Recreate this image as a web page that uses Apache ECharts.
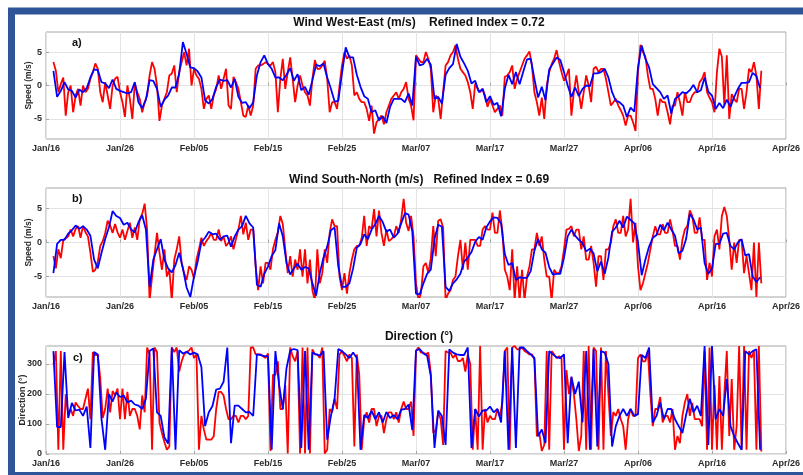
<!DOCTYPE html>
<html>
<head>
<meta charset="utf-8">
<script src="https://cdn.jsdelivr.net/npm/echarts@6/dist/echarts.min.js"></script>
<style>
  html, body { margin: 0; padding: 0; background: #ffffff; }
  #chart { width: 803px; height: 475px; }
</style>
</head>
<body>
<div id="chart"></div>
<script>
// Tick labels for the shared time axis (days counted from Jan/16)
const dateTicks = ['Jan/16', 'Jan/26', 'Feb/05', 'Feb/15', 'Feb/25', 'Mar/07', 'Mar/17', 'Mar/27', 'Apr/06', 'Apr/16', 'Apr/26'];

// Observations (red) every 8 hours, model (blue) every 12 hours, both starting on day 1
const startDay = 1;
const obsStep = 1 / 3;
const modelStep = 0.5;

// Wind West-East component (m/s)
const westEastObs = [
  3.5, 2.2, -1.0,  0.2, 1.2, -4.5,  -1.0, 0.0, -4.0,  -1.5, -0.5, -3.0,  0.0, -1.0, -0.5,
  1.0, 2.0, 3.3,  2.5, -1.0, -2.5,  0.5, -1.5, -3.5,  0.0, 1.0, 1.3,  -1.0, -2.5, -4.7,
  0.0, -2.0, -5.0,  0.3, -1.0, -2.0,  -4.0, -2.5, -1.5,  1.5, 3.5, 2.5,  0.0, -5.3, -3.0,
  -2.0, -1.0, 1.5,  1.8, 3.0, -1.0,  2.0, 3.5, 5.0,  3.0, 5.5, 0.0,  2.5, 1.5, 1.0,
  -0.5, -3.5, -2.0,  -1.5, -3.5, -1.5,  -0.5, 1.5, -0.5,  1.0, 2.5, -3.0,  -3.5, 1.3, 0.5,
  -0.5, -2.5, -4.5,  -4.7, -3.0, -4.5,  -3.0, 2.5, 3.0,  3.0, 3.2, 3.5,  3.2, 3.0, 3.5,
  2.0, -4.0, 1.0,  4.0, -0.5, 2.0,  4.2, 1.0, -2.5,  0.0, 1.5, 0.0,  -1.0, -1.5, -3.0,
  1.0, 3.8, 2.5,  2.5, 3.0, 3.7,  1.0, -4.0, -2.5,  -2.5, -3.5, 0.0,  3.0, 5.0, 4.0,
  4.5, 3.0, -1.5,  -1.0, -2.0, -2.5,  -2.5, -3.5, -5.3,  -3.0, -7.2, -5.5,  -5.0, -4.5, -5.8,
  -4.0, -3.0, -2.0,  -1.5, -1.0, -2.0,  -1.0, -0.5, 0.5,  -2.0, -3.0, -5.2,  4.5, 4.0, 3.5,
  3.5, 5.0, 4.0,  2.5, -4.0, -1.5,  -2.0, -5.0, -1.0,  3.0, 3.5, 4.5,  5.0, 6.0, 4.0,
  2.5, 2.0, 1.5,  0.5, -1.0, -3.5,  0.3, -0.5, -1.0,  -0.5, -1.5, -3.2,  -2.0, -3.0, -4.0,
  -3.5, -3.0, -4.5,  1.3, 1.5, 2.0,  3.0, -0.5, 1.0,  2.0, 3.0, 4.0,  4.5, 5.1, 3.0,
  -1.0, -2.5, -4.5,  -1.8, -5.0, 0.0,  2.0, 3.2, 4.0,  5.3, 3.5, 2.0,  0.7, 1.5, 2.5,
  -4.5, -1.0, 1.5,  -1.0, -3.5, -1.0,  1.5, 0.0, -2.5,  2.5, 2.8, 2.0,  2.5, 2.5, 1.0,
  -1.0, -3.0, -2.5,  -2.0, -3.0, -3.7,  -4.5, -6.0, -4.5,  -4.5, -5.5, -6.8,  2.0, 6.1, 5.0,
  4.3, 1.5, -0.5,  -0.5, -2.0, -4.5,  -2.0, -2.5, -2.5,  -4.0, -5.8, -3.0,  -3.0, -1.0, -2.5,
  -4.5, -1.0, -2.5,  -2.5, -1.5, -1.0,  -1.0, 0.5, 1.0,  2.0, -1.0, -1.8,  -2.5, -4.0, 2.0,
  5.5, 4.3, -3.0,  4.5, -5.0, -1.3,  -2.0, -2.5, -0.5,  -0.5, -3.5, -1.0,  2.5, 2.0, 3.5,
  1.5, -3.5, 2.2
];
const westEastModel = [
  2.2, -1.7,  -0.8, 0.5,  -0.6, -0.8,  -1.8, -0.6,  -1.0, -0.4,  1.2, 2.4,  2.3, 0.5,  0.3, -0.4,
  0.9, -0.5,  -0.8, -1.0,  -1.2, -1.0,  0.5, -2.5,  -3.4, -2.1,  0.8, 0.7,  -0.5, -3.2,  -2.1, -1.5,
  -0.3, -0.3,  1.8, 6.5,  4.7, 2.7,  2.6, 2.1,  1.2, -2.2,  -2.7, -2.0,  -0.2, 0.9,  0.7, 0.8,
  -0.3, 1.0,  -1.7, -2.6,  -2.5, -3.4,  -2.5, 1.5,  3.5, 4.5,  3.2, 2.5,  1.2, 1.2,  0.8, 1.6,
  2.6, 0.7,  1.7, -0.7,  -0.2, -1.4,  0.8, 3.1,  2.9, 3.3,  1.2, -0.5,  -2.4, -2.3,  1.8, 5.7,
  4.2, 4.2,  1.6, -0.2,  -1.6, -2.0,  -4.0, -3.7,  -5.2, -4.6,  -5.6, -3.2,  -2.0, -2.0,  -2.0, -2.5,
  -1.2, -3.0,  4.3, 3.0,  3.2, 4.0,  3.1, -2.0,  -1.7, -2.7,  1.6, 2.6,  3.2, 6.2,  4.3, 3.3,
  2.2, 0.3,  0.7, -1.0,  -0.5, -2.5,  -1.6, -2.9,  -2.6, -4.6,  -0.5, 1.6,  0.2, 2.0,  0.2, 2.1,
  3.9, 4.0,  1.0, -1.8,  -0.2, -2.2,  2.4, 3.3,  4.2, 3.8,  2.0, 0.0,  -1.7, -0.3,  -1.6, -0.5,
  0.0, -0.1,  1.8, 1.8,  2.0, 2.5,  1.2, -1.0,  -2.3, -2.5,  -3.0, -4.7,  -3.3, -3.9,  2.7, 6.0,
  4.0, 2.7,  0.2, -0.4,  -1.0, -2.0,  -1.5, -4.2,  -2.0, -1.6,  -1.0, -1.2,  -0.7, 0.1,  -1.0, -0.7,
  1.2, -0.9,  -1.5, -3.5,  -2.6, -3.4,  -2.1, -3.2,  -1.7, -0.5,  0.4, 0.4,  0.5, 1.9,  1.4, -0.4
];

// Wind South-North component (m/s)
const southNorthObs = [
  -2.0, -3.8, -1.0,  -2.3, 0.4, 0.6,  0.9, 1.9, 0.9,  2.0, 2.4, 0.7,  2.4, 1.5, 0.9,
  -1.5, -4.3, -4.0,  -2.8, -0.5, 0.2,  1.4, 3.2, 2.5,  1.4, 2.7, 1.5,  0.7, 1.9, 0.4,
  1.7, 2.9, 0.7,  2.2, 0.4, 3.4,  4.2, 5.7, 1.9,  -8.5, -5.0, -1.8,  1.4, -1.5, -4.0,
  -1.0, -5.0, -4.0,  -8.5, -2.5, -1.0,  0.9, -3.0, -4.5,  -5.5, -3.5, -4.0,  -5.3, -2.5, -1.0,
  0.7, -0.5, 0.2,  0.7, 1.4, 0.4,  0.4, 1.9, 0.2,  0.9, -0.5, 0.0,  0.9, -1.0, 0.5,
  1.9, 3.9, 1.2,  2.9, 0.4, 1.9,  1.9, -3.5, -7.0,  -3.5, -6.0, -3.0,  -3.0, -4.0, -1.0,
  0.4, 1.5, 3.9,  2.7, -1.0, -4.5,  -2.0, -5.0, -2.5,  -4.0, -1.0, -5.0,  -1.0, -6.0, -2.5,
  -7.0, -8.5, -1.0,  -6.0, -4.5, -1.0,  -3.0, 1.4, 3.4,  2.4, 2.4, -5.0,  -7.0, -4.5, -7.5,
  -4.5, -2.5, -1.0,  -0.5, -0.5, 0.7,  3.9, -0.5, 2.4,  2.0, 4.9, 0.9,  4.7, 1.4, -0.5,
  1.9, 0.2, 0.5,  0.9, 2.4, 1.4,  3.4, 6.4, 2.9,  1.7, 3.9, 0.9,  -6.0, -8.5, -7.5,
  -3.5, -3.0, -4.5,  -2.3, 2.4, -2.0,  3.2, 3.4, 2.2,  -8.5, -7.5, -7.0,  -5.5, -5.0, -2.0,
  0.4, -4.0, 0.0,  -4.0, 0.4, 0.4,  0.4, -0.5, -0.5,  1.9, 2.4, 1.9,  1.9, 4.4, 1.4,
  1.4, 4.7, 1.7,  -4.0, -5.0, -7.0,  -1.0, -8.5, -3.5,  -8.5, -4.0, -8.5,  -5.0, -3.5, -1.0,
  -1.0, 1.4, -0.5,  0.9, -2.5, -5.0,  -5.0, -8.5, -4.0,  -4.5, -4.5, -3.5,  -1.0, 1.9, 2.0,
  2.4, 0.9, 1.9,  1.9, -1.0, 0.9,  -2.5, -2.5, -0.5,  -3.0, -6.5, -2.0,  -2.0, -5.5, -1.0,
  -1.0, 0.0, 2.4,  3.4, 1.4, 1.4,  3.9, 0.9, 1.9,  6.4, 0.0, 2.9,  -3.5, -7.0, -6.0,
  -4.5, -3.0, -1.0,  0.9, 2.4, 1.2,  1.2, 2.7, 1.4,  1.4, 3.4, 1.7,  -0.5, -0.5, -2.5,
  0.4, 1.9, 2.4,  4.7, 3.9, 1.4,  1.4, 3.7, 0.4,  0.4, -5.5, -3.0,  -5.0, 0.9, 1.9,
  -1.0, 3.9, 5.2,  3.9, 0.4, -4.0,  0.0, -3.0, 0.4,  0.4, -4.5, -2.0,  -4.5, -7.0, 0.0,
  -8.0, 0.0, -6.0
];
const southNorthModel = [
  -4.5, -0.2,  0.4, 0.4,  1.3, 1.8,  2.5, 2.0,  2.4, 1.9,  1.0, -2.5,  -3.8, -1.5,  0.5, 2.2,
  4.6, 3.9,  3.6, 2.6,  2.9, 1.9,  1.5, 3.0,  4.0, 1.9,  -6.5, -2.5,  -1.0, 0.5,  -2.5, -3.8,
  -4.4, -3.3,  -1.5, -3.8,  -6.6, -8.0,  -5.0, -2.8,  0.1, 0.7,  1.6, 1.2,  1.3, 0.4,  0.9, 1.0,
  -0.6, 0.9,  1.9, 2.4,  3.9, 2.8,  2.2, -6.2,  -6.5, -4.6,  -3.5, -2.0,  -1.1, 2.8,  0.9, -3.0,
  -4.7, -3.8,  -3.1, -4.0,  -3.6, -3.8,  -6.0, -7.8,  -4.5, -2.2,  -0.6, 1.8,  2.2, -3.5,  -6.5, -6.5,
  -6.0, -3.8,  -0.8, -0.2,  1.2, 0.5,  1.9, 2.7,  3.9, 3.0,  1.6, 1.9,  0.7, 1.3,  2.8, 4.3,
  4.1, 1.6,  -7.5, -7.6,  -6.0, -4.6,  -4.0, 0.5,  2.6, 2.3,  -6.5, -7.1,  -6.0, -5.4,  -4.6, -2.8,
  -2.2, -1.4,  0.1, 0.8,  0.4, 2.2,  3.1, 3.7,  3.6, 2.8,  -1.7, -3.3,  -3.0, -5.5,  -5.1, -5.2,
  -5.2, -4.2,  -1.2, 0.5,  -1.0, -1.5,  -3.6, -4.7,  -4.6, -4.6,  -2.2, 0.9,  1.9, 1.0,  0.4, -0.1,
  -1.3, -0.9,  -1.6, -4.2,  -2.8, -4.6,  -2.2, 1.6,  2.2, 3.2,  2.2, 3.8,  3.3, 2.8,  0.0, -4.8,
  -2.5, -0.6,  0.7, 1.1,  2.6, 1.8,  2.9, 1.9,  1.0, -1.6,  -1.2, 0.5,  4.2, 3.4,  1.9, 2.2,
  -3.0, -4.6,  -3.8, -0.2,  -0.2, 1.3,  1.4, -0.5,  -1.0, 0.0,  0.5, -1.9,  -1.7, -5.0,  -5.8, -5.1
];

// Wind direction (degrees)
const directionObs = [
  298, 343, 14,  343, 14, 200,  130, 150, 127,  172, 160, 150,  150, 184, 218,
  116, 340, 330,  330, 252, 120,  150, 218, 139,  210, 195, 218,  116, 218, 116,
  207, 127, 150,  150, 127, 82,  195, 139, 355,  332, 14, 355,  340, 105, 70,
  40, 14, 25,  355, 340, 355,  275, 309, 332,  340, 345, 355,  320, 332, 14,
  127, 82, 48,  48, 48, 59,  150, 207, 207,  195, 150, 116,  116, 127, 127,
  105, 127, 127,  116, 127, 355,  355, 332, 332,  332, 326, 320,  335, 10, 264,
  264, 309, 150,  150, 230, 2,  355, 326, 309,  343, 2, 355,  2, 355, 2,
  349, 332, 332,  320, 355, 2,  14, 150, 139,  184, 150, 332,  343, 326, 309,
  332, 320, 25,  332, 264, 14,  116, 139, 105,  150, 150, 93,  127, 127, 70,
  116, 139, 139,  116, 139, 105,  150, 175, 150,  150, 175, 60,  343, 355, 338,
  338, 332, 338,  270, 70, 80,  140, 116, 30,  343, 338, 338,  320, 332, 310,
  310, 320, 275,  332, 300, 14,  150, 14, 360,  14, 150, 105,  127, 116, 116,
  150, 127, 170,  343, 355, 14,  355, 360, 349,  349, 355, 343,  338, 332, 332,
  315, 59, 70,  10, 30, 343,  14, 343, 332,  320, 326, 320,  14, 280, 200,
  255, 200, 116,  10, 60, 343,  14, 360, 14,  355, 343, 14,  355, 14, 343,
  200, 60, 140,  127, 150, 116,  93, 14, 116,  150, 127, 127,  320, 332, 309,
  309, 343, 200,  93, 150, 150,  190, 105, 127,  127, 105, 150,  14, 60, 36,
  127, 172, 200,  127, 170, 116,  116, 116, 93,  343, 14, 355,  14, 230, 14,
  260, 14, 200,  343, 60, 250,  14, 93, 360,  14, 360, 14,  343, 320, 343,
  14, 360, 8
];
const directionModel = [
  343, 90,  90, 340,  120, 170,  145, 148,  127, 158,  20, 340,  332, 116,  14, 200,
  175, 205,  190, 195,  172, 178,  165, 161,  150, 184,  343, 352,  139, 127,  55, 35,
  355, 14,  346, 335,  341, 332,  338, 332,  290, 93,  139, 160,  215, 218,  241, 355,
  36, 161,  161, 150,  139, 140,  127, 332,  330, 326,  326, 14,  343, 230,  150, 286,
  345, 350,  346, 20,  343, 14,  338, 332,  328, 343,  48, 127,  184, 350,  343, 332,
  320, 338,  320, 14,  130, 120,  144, 116,  139, 105,  140, 120,  130, 116,  148, 150,
  165, 80,  345, 350,  335, 328,  260, 20,  145, 127,  30, 349,  338, 332,  330, 330,
  355, 20,  150, 125,  145, 145,  158, 139,  150, 105,  343, 14,  355, 20,  355, 355,
  343, 332,  320, 59,  82, 36,  343, 332,  322, 320,  332, 36,  258, 200,  241, 105,
  343, 14,  349, 25,  343, 338,  300, 25,  93, 127,  150, 127,  150, 127,  133, 330,
  320, 355,  105, 127,  172, 116,  150, 150,  116, 93,  70, 130,  184, 139,  161, 127,
  360, 30,  360, 116,  150, 127,  250, 93,  59, 36,  14, 343,  332, 343,  349, 14
];

// Panel headings and axis names
const panelTitles = [
  'Wind West-East (m/s)    Refined Index = 0.72',
  'Wind South-North (m/s)   Refined Index = 0.69',
  'Direction (\u00b0)'
];
const panelTags = ['a)', 'b)', 'c)'];
const yNames = ['Speed (m/s)', 'Speed (m/s)', 'Direction (\u00b0)'];
const speedTicks = [-5, 0, 5];
const directionTicks = [0, 100, 200, 300];

const FONT = '"Liberation Sans", Arial, Helvetica, sans-serif';
const TEXT = '#2b2b2b';
const GRID_LINE = '#e3e3e3';
const BOX = '#a6a6a6';

function toPairs(values, step) {
  return values.map((v, i) => [startDay + i * step, v]);
}

const grids = [
  { left: 46, top: 32, width: 746, height: 107 },
  { left: 46, top: 188, width: 746, height: 109 },
  { left: 46, top: 346, width: 746, height: 108 }
].map(g => Object.assign({ show: true, borderColor: BOX, borderWidth: 1, backgroundColor: '#ffffff' }, g));

const xAxes = [0, 1, 2].map(i => ({
  type: 'value', gridIndex: i, min: 0, max: 100, interval: 10,
  axisLine: { show: false },
  axisTick: { show: true, inside: true, length: 3, lineStyle: { color: BOX } },
  axisLabel: {
    formatter: v => dateTicks[Math.round(v / 10)] || '',
    fontFamily: FONT, fontSize: 9, fontWeight: 'bold', color: TEXT, margin: 5
  },
  splitLine: { show: true, lineStyle: { color: GRID_LINE, width: 1 } }
}));

function yAxisFor(i, min, max, ticks, gap, nameSize) {
  return {
    type: 'value', gridIndex: i, min: min, max: max,
    name: yNames[i], nameLocation: 'middle', nameGap: gap, nameMoveOverlap: false,
    nameTextStyle: { fontFamily: FONT, fontSize: nameSize, fontWeight: 'bold', color: TEXT },
    axisLine: { show: false },
    axisTick: { show: true, inside: true, length: 3, customValues: ticks, lineStyle: { color: BOX } },
    axisLabel: { customValues: ticks, fontFamily: FONT, fontSize: 9, fontWeight: 'bold', color: TEXT, margin: 4 },
    splitLine: { show: true, lineStyle: { color: GRID_LINE, width: 1 } }
  };
}

const yAxes = [
  yAxisFor(0, -8, 8, speedTicks, 13, 8.5),
  yAxisFor(1, -8, 8, speedTicks, 13, 8.5),
  yAxisFor(2, 0, 360, directionTicks, 19, 9)
];

function lineSeries(i, values, step, color, z) {
  return {
    type: 'line', xAxisIndex: i, yAxisIndex: i,
    data: toPairs(values, step),
    showSymbol: false, symbol: 'none', clip: true, z: z,
    lineStyle: { color: color, width: 1.8 },
    itemStyle: { color: color },
    emphasis: { disabled: true }
  };
}

const series = [
  lineSeries(0, westEastObs, obsStep, '#ff0000', 2),
  lineSeries(0, westEastModel, modelStep, '#0000ff', 3),
  lineSeries(1, southNorthObs, obsStep, '#ff0000', 2),
  lineSeries(1, southNorthModel, modelStep, '#0000ff', 3),
  lineSeries(2, directionObs, obsStep, '#ff0000', 2),
  lineSeries(2, directionModel, modelStep, '#0000ff', 3)
];

const titleY = [23, 180, 337];
const tagPos = [[72, 43], [72, 199], [73, 358]];

const graphics = [
  {
    type: 'rect', silent: true, z: 100,
    shape: { x: 11.5, y: 11, width: 900, height: 464.5 },
    style: { fill: null, stroke: '#2e5597', lineWidth: 7 }
  }
];
panelTitles.forEach((t, i) => {
  graphics.push({
    type: 'text', silent: true, x: 419, y: titleY[i],
    style: { text: t, fill: '#111111', font: 'bold 12px ' + FONT, textAlign: 'center', textVerticalAlign: 'middle' }
  });
  graphics.push({
    type: 'text', silent: true, z: 10, x: tagPos[i][0], y: tagPos[i][1],
    style: { text: panelTags[i], fill: '#111111', font: 'bold 11px ' + FONT, textAlign: 'left', textVerticalAlign: 'middle' }
  });
});

const chart = echarts.init(document.getElementById('chart'), null, { renderer: 'canvas' });
chart.setOption({
  animation: false,
  backgroundColor: '#ffffff',
  grid: grids,
  xAxis: xAxes,
  yAxis: yAxes,
  series: series,
  graphic: graphics
});
</script>
</body>
</html>
